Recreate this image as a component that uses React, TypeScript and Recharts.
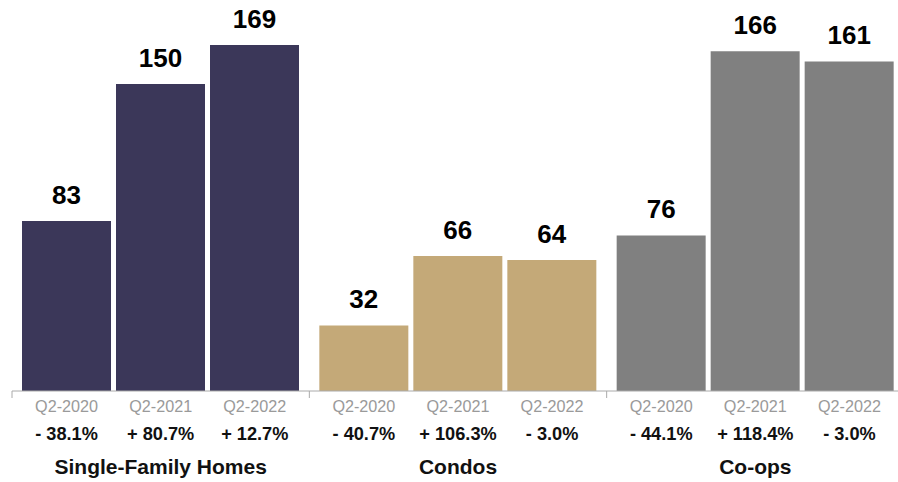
import React from 'react';
import { BarChart, Bar, XAxis, YAxis, Cell, LabelList } from 'recharts';

const groups = ['Single-Family Homes', 'Condos', 'Co-ops'];
const periods = ['Q2-2020', 'Q2-2021', 'Q2-2022'];
const q2020 = [83, 32, 76];
const q2021 = [150, 66, 166];
const q2022 = [169, 64, 161];
const chg2020 = ['- 38.1%', '- 40.7%', '- 44.1%'];
const chg2021 = ['+ 80.7%', '+ 106.3%', '+ 118.4%'];
const chg2022 = ['+ 12.7%', '- 3.0%', '- 3.0%'];
const groupColors = ['#3B3759', '#C4A978', '#808080'];

const data = groups.map((g, i) => ({
  name: g,
  q2020: q2020[i],
  q2021: q2021[i],
  q2022: q2022[i],
}));
const changes = groups.map((_, i) => [chg2020[i], chg2021[i], chg2022[i]]);

const CAT_GAP = 10;
const BAR_GAP = 5;
const FONT = '"Liberation Sans", Arial, Helvetica, sans-serif';

const GroupTick = (props: any) => {
  const { x, y, payload } = props;
  const half = payload.offset || 0;
  const band = half * 2;
  const barSize = (band - 2 * CAT_GAP - 2 * BAR_GAP) / 3;
  const idx = payload.index;
  const left = x - half;
  return (
    <g>
      <line x1={left} y1={y} x2={left} y2={y + 7} stroke="#aaaaaa" strokeWidth={1} />
      {periods.map((p, i) => {
        const cx = x + (i - 1) * (barSize + BAR_GAP);
        return (
          <g key={p}>
            <text x={cx} y={y + 21} textAnchor="middle" fontFamily={FONT} fontSize={16.2} fill="#9a9a9a">
              {p}
            </text>
            <text x={cx} y={y + 49} textAnchor="middle" fontFamily={FONT} fontSize={18.2} fontWeight="bold" fill="#111">
              {changes[idx][i]}
            </text>
          </g>
        );
      })}
      <text x={x} y={y + 83} textAnchor="middle" fontFamily={FONT} fontSize={21} fontWeight="bold" fill="#111">
        {payload.value}
      </text>
    </g>
  );
};

const keys = ['q2020', 'q2021', 'q2022'];

export default function App() {
  return (
    <div style={{ position: 'absolute', left: 0, top: 0, width: 898, height: 482, background: '#fff' }}>
      <BarChart
        width={898}
        height={482}
        data={data}
        margin={{ top: 0, right: -6, bottom: 0, left: 12 }}
        barCategoryGap={CAT_GAP}
        barGap={BAR_GAP}
      >
        <XAxis
          dataKey="name"
          height={91}
          axisLine={{ stroke: '#aaaaaa', strokeWidth: 1 }}
          tickLine={false}
          tickSize={0}
          tickMargin={0}
          interval={0}
          tick={<GroupTick />}
        />
        <YAxis hide domain={[0, 191]} />
        {keys.map((k) => (
          <Bar key={k} dataKey={k} isAnimationActive={false}>
            {data.map((_, i) => (
              <Cell key={i} fill={groupColors[i]} />
            ))}
            <LabelList
              dataKey={k}
              position="top"
              offset={17}
              fill="#000"
              fontSize={26}
              fontWeight="bold"
              fontFamily={FONT}
            />
          </Bar>
        ))}
      </BarChart>
    </div>
  );
}
